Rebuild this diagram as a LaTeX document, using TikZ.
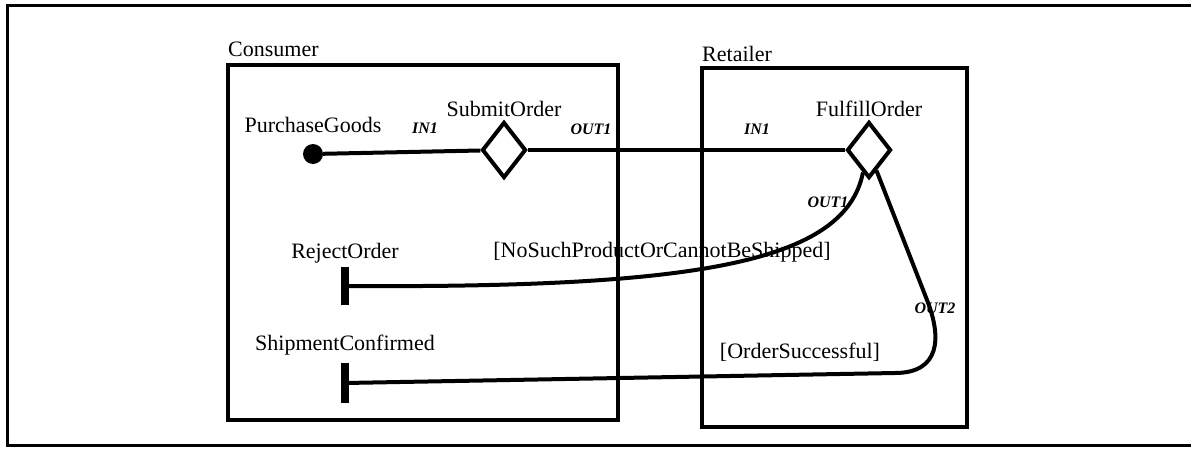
\documentclass[tikz,border=0pt]{standalone}
\usepackage{fontspec}
\setmainfont{Liberation Serif}
\usepackage{tikz}
\usetikzlibrary{positioning,shapes.geometric}

\begin{document}
\begin{tikzpicture}[
    x=1pt, y=-1pt,
    font=\fontsize{22}{26}\selectfont,
    swimlane/.style={draw, rectangle, line width=4pt, inner sep=0pt},
    activity/.style={draw, diamond, line width=4pt, inner sep=0pt, minimum width=44pt, minimum height=56pt},
    endbar/.style={rectangle, fill, inner sep=0pt, minimum width=8pt},
    port/.style={font=\fontsize{16}{19}\selectfont\bfseries\itshape},
    wire/.style={line width=4pt}
]
\useasboundingbox (0,0) rectangle (1191,450);

% Outer frame
\draw[line width=3pt] (1191,5) -- (7,5) -- (7,445) -- (1191,445);

% Swimlanes
\node[swimlane, minimum width=390pt, minimum height=355pt] (consumer) at (423,242.5) {};
\node[swimlane, minimum width=265pt, minimum height=359pt] (retailer) at (834.5,247.5) {};
\node[above right=6pt and 2pt of consumer.north west, inner sep=0pt] (consumerlbl) {Consumer};
\node[above right=4pt and 2pt of retailer.north west, inner sep=0pt] (retailerlbl) {Retailer};

% Activities and end points
\node[circle, fill, minimum size=20pt, inner sep=0pt] (purchase) at (313,154) {};
\node[activity] (submit) at (504,150) {};
\node[activity] (fulfill) at (869,150) {};
\node[endbar, minimum height=38pt] (reject) at (345,286) {};
\node[endbar, minimum height=40pt] (shipment) at (345,383) {};

\node[above=8pt of purchase] (purchaselbl) {PurchaseGoods};
\node[above=0pt of submit] (submitlbl) {SubmitOrder};
\node[above=0pt of fulfill] (fulfilllbl) {FulfillOrder};
\node[above=0pt of reject] (rejectlbl) {RejectOrder};
\node[above=4pt of shipment] (shipmentlbl) {ShipmentConfirmed};

% Guards and ports
\node (guardfail) at (662,252) {[NoSuchProductOrCannotBeShipped]};
\node (guardok) at (800,352) {[OrderSuccessful]};
\node[port] (inA) at (425,128) {IN1};
\node[port] (outA) at (591,129) {OUT1};
\node[port] (inB) at (757,129) {IN1};
\node[port] (outB) at (828,202) {OUT1};
\node[port] (outC) at (935,308) {OUT2};

% Connectors
\draw[wire] (purchase) -- (submit);
\draw[wire] (submit) -- (fulfill);
\draw[wire] (fulfill.-105) .. controls (845,262) and (700,288) .. (reject);
\draw[wire] (fulfill.-70) -- (927,300) .. controls (942,338) and (940,373) .. (895,373) -- (shipment);

\end{tikzpicture}
\end{document}
